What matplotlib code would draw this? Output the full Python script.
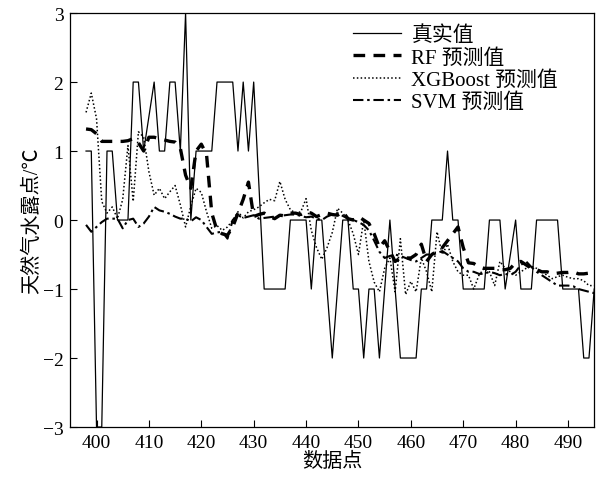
import numpy as np
import matplotlib
matplotlib.use('Agg')
import matplotlib.pyplot as plt

plt.rcParams['font.family'] = ['Liberation Serif', 'Noto Sans CJK SC']
plt.rcParams['axes.unicode_minus'] = True

# data points 398..495
x = np.arange(398, 496)

true_vals = [1, 1, -3, -3, 1, 1, 0, 0, 0, 2,
             2, 1, 1.5, 2, 1, 1, 2, 2, 1, 3,
             0, 1, 1, 1, 1, 2, 2, 2, 2, 1,
             2, 1, 2, 0.5, -1, -1, -1, -1, -1, 0,
             0, 0, 0, -1, 0, 0, -1, -2, -1, 0,
             0, -1, -1, -2, -1, -1, -2, -1, 0, -1,
             -2, -2, -2, -2, -1, -1, 0, 0, 0, 1,
             0, 0, -1, -1, -1, -1, -1, 0, 0, 0,
             -1, -0.5, 0, -1, -1, -1, 0, 0, 0, 0,
             0, -1, -1, -1, -1, -2, -2, -1]

rf_vals = [1.32, 1.31, 1.25, 1.14, 1.14, 1.14, 1.14, 1.14, 1.15, 1.18,
           1.12, 1.0, 1.2, 1.2, 1.18, 1.16, 1.14, 1.13, 1.04, 0.65,
           0.46, 1.0, 1.1, 0.95, 0.1, -0.15, -0.2, -0.22, -0.1, 0.1,
           0.3, 0.55, 0.05, 0.08, 0.1, 0.05, 0.02, 0.07, 0.06, 0.1,
           0.1, 0.08, 0.12, 0.1, 0.05, 0.08, 0.1, 0.08, 0.07, 0.12,
           0.02, 0.0, 0.05, 0.0, -0.05, -0.2, -0.4, -0.3, -0.45, -0.6,
           -0.55, -0.55, -0.55, -0.5, -0.35, -0.6, -0.5, -0.45, -0.4, -0.3,
           -0.2, -0.1, -0.4, -0.62, -0.63, -0.68, -0.7, -0.7, -0.7, -0.72,
           -0.72, -0.7, -0.62, -0.6, -0.65, -0.7, -0.72, -0.75, -0.75, -0.78,
           -0.77, -0.76, -0.76, -0.75, -0.78, -0.78, -0.77, -0.78]

xgb_vals = [1.56, 1.84, 1.47, 0.27, 0.1, 0.19, 0.02, 0.3, 1.08, 0.27,
            1.28, 1.2, 0.7, 0.36, 0.46, 0.31, 0.41, 0.5, 0.22, -0.1,
            0.2, 0.46, 0.4, 0.12, -0.12, -0.08, -0.15, -0.1, 0.0, 0.12,
            0.03, 0.12, 0.15, 0.19, 0.25, 0.3, 0.28, 0.56, 0.3, 0.15,
            0.1, 0.12, 0.31, -0.15, -0.4, -0.57, -0.4, -0.18, 0.17, 0.1,
            0.0, -0.2, -0.5, 0.0, -0.6, -0.9, -1.04, -0.7, -0.55, -1.04,
            -0.27, -1.08, -0.89, -1.04, -0.55, -0.75, -1.04, -0.17, -0.5, -0.35,
            -0.6, -0.75, -0.8, -0.8, -1.0, -0.8, -0.7, -0.75, -0.95, -0.6,
            -0.7, -0.75, -0.8, -0.75, -0.7, -0.67, -0.7, -0.75, -0.8, -0.85,
            -0.82, -0.8, -0.83, -0.85, -0.85, -0.88, -0.95, -0.95]

svm_vals = [-0.07, -0.17, -0.1, -0.03, 0.02, 0.02, 0.02, -0.12, 0.0, 0.02,
            -0.1, -0.05, 0.05, 0.19, 0.14, 0.12, 0.09, 0.05, 0.02, 0.02,
            -0.02, 0.04, 0.0, -0.1, -0.2, -0.18, -0.17, -0.27, 0.0, 0.07,
            0.03, 0.05, 0.07, 0.02, 0.03, 0.04, 0.05, 0.06, 0.07, 0.08,
            0.08, 0.06, 0.04, 0.05, 0.02, 0.0, 0.05, 0.08, 0.1, 0.06,
            0.02, 0.0, -0.03, -0.07, -0.15, -0.3, -0.46, -0.55, -0.52, -0.5,
            -0.52, -0.55, -0.58, -0.6, -0.55, -0.5, -0.5, -0.48, -0.45, -0.5,
            -0.55, -0.6, -0.7, -0.75, -0.75, -0.78, -0.78, -0.75, -0.77, -0.8,
            -0.78, -0.8, -0.75, -0.65, -0.6, -0.68, -0.75, -0.8, -0.85, -0.9,
            -0.95, -0.95, -0.95, -0.96, -1.0, -1.02, -1.04, -1.06]

labels = ['真实值', 'RF 预测值', 'XGBoost 预测值', 'SVM 预测值']

fig = plt.figure(figsize=(5.96, 4.85), dpi=100)
ax = fig.add_axes([0.118, 0.1175, 0.879, 0.8535])

ax.plot(x, true_vals, color='black', lw=0.9, ls='-', label=labels[0])
ax.plot(x, rf_vals, color='black', lw=2.4, ls=(0, (3.5, 2.5)), label=labels[1])
ax.plot(x, xgb_vals, color='black', lw=1.1, ls=(0, (1, 1.5)), label=labels[2])
ax.plot(x, svm_vals, color='black', lw=1.5, ls=(0, (5, 1.8, 1.2, 1.8)), label=labels[3])

ax.set_xlim(395, 495)
ax.set_ylim(-3, 3)
ax.set_xticks(np.arange(400, 491, 10))
ax.set_yticks(np.arange(-3, 4, 1))
ax.tick_params(direction='in', length=5, width=0.8, labelsize=14,
               top=False, right=False, pad=5)
for s in ax.spines.values():
    s.set_linewidth(0.9)

ax.set_xlabel('数据点', fontsize=14.5, labelpad=1)
ax.set_ylabel('天然气水露点/℃', fontsize=14.5, labelpad=0)

ax.legend(loc='upper right', bbox_to_anchor=(0.955, 1.0), frameon=False,
          fontsize=15, handlelength=2.3, handletextpad=0.5,
          labelspacing=0.13, borderaxespad=0.2)

fig.savefig('out.png', dpi=100)
